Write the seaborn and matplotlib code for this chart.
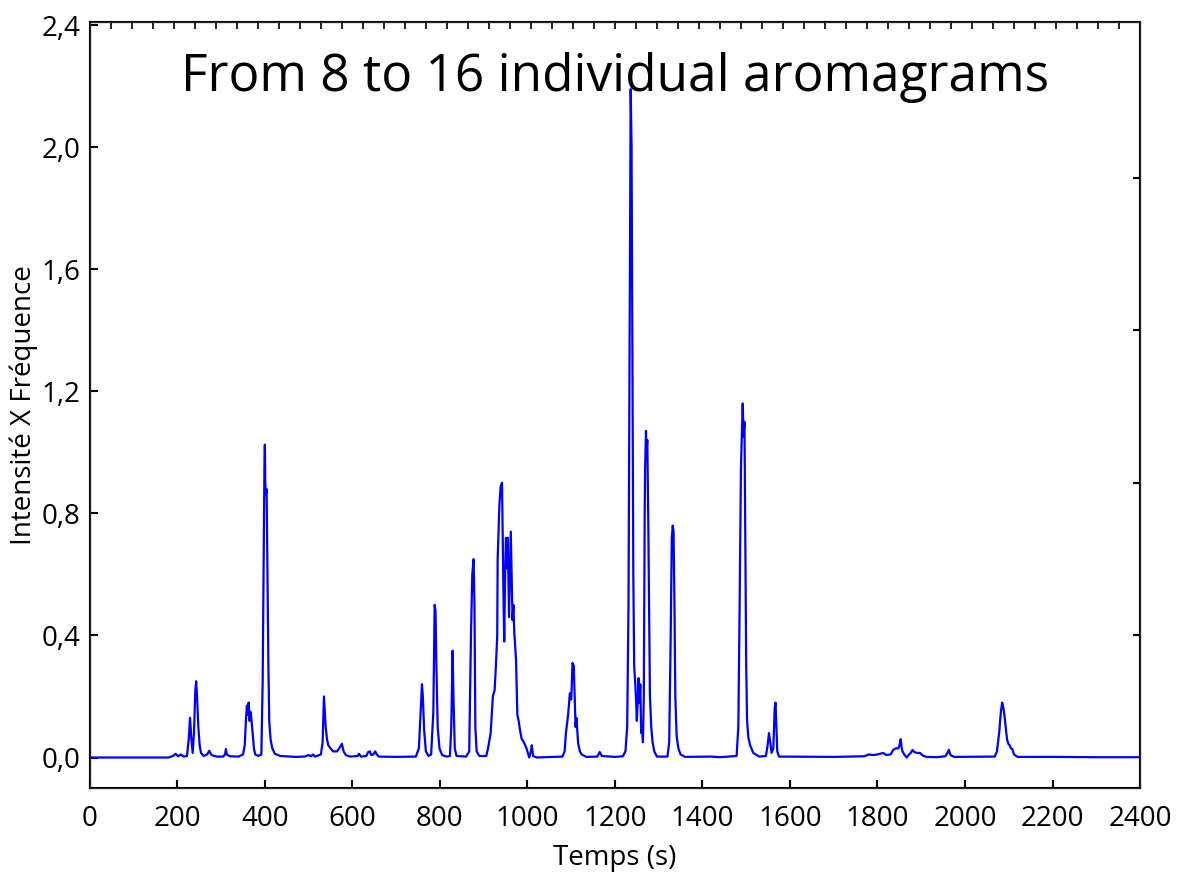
import numpy as np
import pandas as pd
import seaborn as sns
import matplotlib.pyplot as plt
from matplotlib.ticker import FuncFormatter

# Aromagramme : temps (s) et intensite x frequence
temps_a = [0, 180, 190, 196, 202, 208, 215, 222, 226, 229, 232, 235, 238, 241, 243, 245, 248, 251, 254,
           260, 268, 273, 278, 290, 305, 309, 311, 313, 320, 340, 350, 354, 357, 359, 361, 363, 365, 367,
           369, 372, 375, 378, 385, 392, 395, 397, 399, 400, 401, 402, 404, 406, 408, 410, 413, 417, 423,
           435, 470, 491, 500, 506, 510, 515, 528, 532, 535, 537, 539, 542, 545, 550, 556, 565, 572, 576,
           580, 585, 595, 612, 615, 620, 632, 636, 640, 643, 648, 652, 656, 660, 700, 745]
inten_a = [0, 0, 0.005, 0.012, 0.004, 0.01, 0.003, 0.005, 0.06, 0.13, 0.06, 0.015, 0.08, 0.22, 0.25, 0.2,
           0.1, 0.04, 0.015, 0.005, 0.01, 0.022, 0.008, 0.003, 0.003, 0.01, 0.028, 0.01, 0.004, 0.003, 0.01,
           0.04, 0.13, 0.17, 0.14, 0.18, 0.12, 0.15, 0.13, 0.08, 0.03, 0.01, 0.005, 0.01, 0.25, 0.6, 0.95,
           1.025, 0.9, 0.86, 0.88, 0.6, 0.31, 0.12, 0.06, 0.03, 0.012, 0.005, 0.002, 0.003, 0.008, 0.004,
           0.01, 0.003, 0.01, 0.05, 0.2, 0.15, 0.1, 0.06, 0.04, 0.03, 0.02, 0.02, 0.035, 0.045, 0.02, 0.008,
           0.003, 0.005, 0.012, 0.003, 0.005, 0.018, 0.02, 0.008, 0.01, 0.02, 0.01, 0.003, 0.002, 0.003]

temps_b = [752, 756, 759, 761, 764, 768, 774, 780, 785, 788, 790, 792, 795, 799, 805, 815, 823, 826, 829,
           831, 834, 838, 860, 867, 871, 874, 877, 879, 881, 884, 890, 906, 910, 916, 921, 925, 928, 931,
           932, 936, 939, 942, 945, 947, 949, 951, 953, 955, 958, 960, 962, 964, 966, 968, 970, 974, 977,
           980, 983, 987, 990, 995, 998, 1002, 1004, 1008, 1010, 1013, 1021, 1080, 1085, 1088, 1093, 1097,
           1100, 1101, 1103, 1106, 1108, 1110, 1112, 1116, 1120, 1124, 1135, 1160, 1165, 1170, 1200, 1218,
           1224]
inten_b = [0.03, 0.15, 0.24, 0.2, 0.09, 0.02, 0.005, 0.01, 0.15, 0.5, 0.48, 0.3, 0.1, 0.03, 0.008, 0.003,
           0.005, 0.1, 0.35, 0.2, 0.03, 0.005, 0.003, 0.02, 0.4, 0.6, 0.65, 0.5, 0.1, 0.02, 0.005, 0.005,
           0.03, 0.08, 0.2, 0.22, 0.3, 0.4, 0.65, 0.83, 0.89, 0.9, 0.56, 0.38, 0.6, 0.72, 0.62, 0.72, 0.46,
           0.6, 0.74, 0.6, 0.45, 0.5, 0.41, 0.32, 0.14, 0.12, 0.09, 0.06, 0.055, 0.04, 0.03, 0.01, 0.0,
           0.02, 0.04, 0.005, 0.0, 0.003, 0.02, 0.08, 0.14, 0.21, 0.19, 0.22, 0.31, 0.3, 0.2, 0.1, 0.13,
           0.045, 0.02, 0.01, 0.002, 0.003, 0.018, 0.005, 0.002, 0.004, 0.02]

temps_c = [1228, 1231, 1234, 1236, 1238, 1240, 1242, 1244, 1246, 1248, 1250, 1252, 1254, 1256, 1258, 1260,
           1262, 1264, 1266, 1268, 1269, 1271, 1272, 1274, 1276, 1278, 1280, 1283, 1286, 1290, 1296, 1320,
           1324, 1327, 1330, 1332, 1334, 1336, 1338, 1341, 1345, 1350, 1360, 1420, 1440, 1478, 1482, 1485,
           1488, 1490, 1492, 1494, 1496, 1498, 1500, 1502, 1505, 1509, 1516, 1530, 1545, 1549, 1552, 1555,
           1558, 1562, 1565, 1567, 1569, 1571, 1575]
inten_c = [0.1, 0.5, 1.5, 2.19, 2.0, 1.3, 0.6, 0.3, 0.25, 0.2, 0.12, 0.18, 0.26, 0.18, 0.24, 0.08, 0.1,
           0.05, 0.2, 0.8, 0.95, 1.07, 1.0, 1.04, 0.8, 0.5, 0.2, 0.1, 0.05, 0.02, 0.003, 0.003, 0.05, 0.35,
           0.72, 0.76, 0.74, 0.5, 0.2, 0.07, 0.03, 0.01, 0.002, 0.003, 0.001, 0.005, 0.1, 0.5, 0.95, 1.05,
           1.16, 1.05, 1.1, 0.7, 0.3, 0.12, 0.065, 0.04, 0.015, 0.003, 0.005, 0.04, 0.08, 0.05, 0.015, 0.03,
           0.16, 0.18, 0.1, 0.02, 0.003]

temps_d = [1700, 1770, 1780, 1790, 1800, 1813, 1820, 1830, 1836, 1842, 1848, 1851, 1853, 1855, 1857, 1862,
           1867, 1872, 1876, 1880, 1884, 1890, 1897, 1904, 1912, 1935, 1955, 1960, 1963, 1967, 1975, 2068,
           2073, 2078, 2082, 2085, 2088, 2090, 2093, 2096, 2099, 2102, 2105, 2108, 2112, 2120, 2200, 2300,
           2400]
inten_d = [0.002, 0.004, 0.01, 0.008, 0.01, 0.015, 0.008, 0.01, 0.025, 0.03, 0.03, 0.045, 0.06, 0.035,
           0.02, 0.008, 0.0, 0.01, 0.015, 0.025, 0.018, 0.015, 0.015, 0.006, 0.002, 0.001, 0.004, 0.015,
           0.025, 0.008, 0.002, 0.003, 0.02, 0.08, 0.15, 0.18, 0.16, 0.14, 0.1, 0.06, 0.045, 0.04, 0.03,
           0.028, 0.01, 0.002, 0.002, 0.001, 0.001]

df = pd.DataFrame({"temps": temps_a + temps_b + temps_c + temps_d,
                   "intensite": inten_a + inten_b + inten_c + inten_d})

sns.set_style("ticks")
plt.rcParams['font.family'] = ['Open Sans', 'DejaVu Sans']
plt.rcParams.update({"text.color": "black", "axes.labelcolor": "black",
                     "xtick.color": "black", "ytick.color": "black"})

fig = plt.figure(figsize=(11.82, 8.75), dpi=100)
ax = fig.add_axes([0.076, 0.0994, 0.8885, 0.8755])

sns.lineplot(data=df, x="temps", y="intensite", color="#0000ff", linewidth=1.6, ax=ax, sort=False)

ax.set_xlim(0, 2400)
ax.set_ylim(-0.1, 2.41)
ax.set_xticks(np.arange(0, 2401, 200))
ax.set_yticks([0.0, 0.4, 0.8, 1.2, 1.6, 2.0, 2.4])
ax.yaxis.set_major_formatter(FuncFormatter(lambda v, p: f"{v:.1f}".replace(".", ",")))
ax.tick_params(direction="in", length=6, width=1.5, labelsize=20)
ax.tick_params(axis="x", pad=12)
ax.tick_params(axis="y", pad=7)
for s in ax.spines.values():
    s.set_linewidth(1.5)
    s.set_color("black")

# axes secondaires (graduations seulement)
ax_top = ax.twiny()
ax_top.set_xlim(0, 2400)
ax_top.set_xticks(np.linspace(0, 2400, 51))
ax_top.tick_params(direction="in", length=5, width=1.2, labeltop=False)
ax_right = ax.twinx()
ax_right.set_ylim(-0.1, 2.41)
ax_right.set_yticks([0.4, 0.9, 1.4, 1.9])
ax_right.tick_params(direction="in", length=5, width=1.5, labelright=False)

ax.set_xlabel("Temps (s)", fontsize=20, labelpad=8)
ax.set_ylabel("Intensité X Fréquence", fontsize=20, labelpad=2)
ax.text(0.5, 0.928, "From 8 to 16 individual aromagrams", transform=ax.transAxes,
        ha="center", va="center", fontsize=37)

fig.savefig("out.png", dpi=100)
